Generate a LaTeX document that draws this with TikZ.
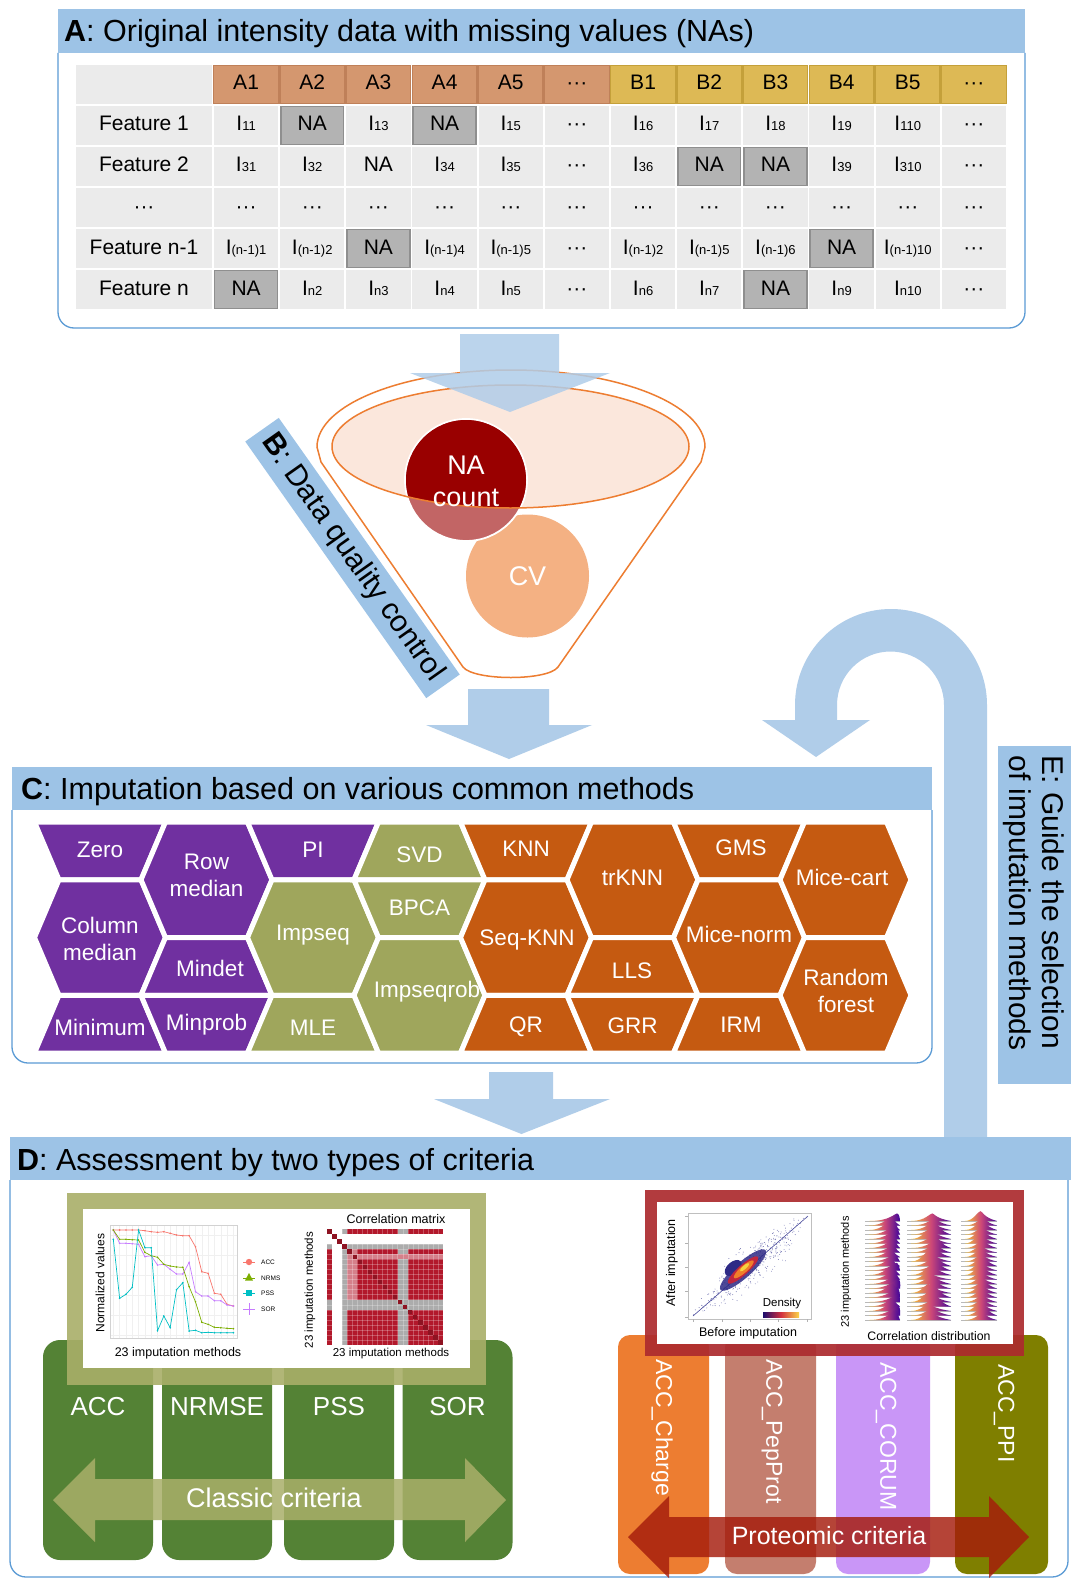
\documentclass[tikz,border=0pt]{standalone}
\usepackage{fontspec}
\setmainfont{Liberation Sans}
\usetikzlibrary{shapes.geometric}
\definecolor{cTitle}{HTML}{9DC3E6}
\definecolor{cLine}{HTML}{5B9BD5}
\definecolor{cArrow}{HTML}{B0CDE9}
\definecolor{cCell}{HTML}{EBEBEB}
\definecolor{cNA}{HTML}{B3B3B3}
\definecolor{cNAb}{HTML}{8F8F8F}
\definecolor{cHA}{HTML}{D4976F}
\definecolor{cHAb}{HTML}{BF8059}
\definecolor{cHB}{HTML}{DDB955}
\definecolor{cHBb}{HTML}{C4A03A}
\definecolor{cFun}{HTML}{ED7D31}
\definecolor{cPink}{HTML}{FBE7DC}
\definecolor{cNAred}{HTML}{990000}
\definecolor{cNAlt}{HTML}{C26565}
\definecolor{cCV}{HTML}{F4B183}
\definecolor{cPur}{HTML}{7030A0}
\definecolor{cGrn}{HTML}{9FA65C}
\definecolor{cOra}{HTML}{C55A11}
\definecolor{cDgreen}{HTML}{548235}
\definecolor{cOlive}{HTML}{A9AF69}
\definecolor{cChg}{HTML}{ED7D31}
\definecolor{cPep}{HTML}{C47E6E}
\definecolor{cCor}{HTML}{C996F7}
\definecolor{cPpi}{HTML}{7F7F00}
\definecolor{cRframe}{HTML}{AC2B2E}
\definecolor{cParrow}{HTML}{A51C0C}
\definecolor{cAcc}{HTML}{F8766D}
\definecolor{cNrm}{HTML}{7CAE00}
\definecolor{cPss}{HTML}{00BFC4}
\definecolor{cSor}{HTML}{C77CFF}
\definecolor{cCM}{HTML}{B2182B}
\definecolor{cSblue}{HTML}{4A4C9C}
\definecolor{cS1}{HTML}{2E2A86}
\definecolor{cS2}{HTML}{C0263F}
\definecolor{cS3}{HTML}{F07F2A}
\definecolor{cS4}{HTML}{F7D340}
\definecolor{cRidA}{HTML}{F9C932}
\definecolor{cRidM}{HTML}{CC4778}
\definecolor{cRidB}{HTML}{3D049B}
\definecolor{cDen1}{HTML}{1B0C6B}
\definecolor{cDen2}{HTML}{D2303E}
\definecolor{cDen3}{HTML}{FBD54A}
\newcommand{\fsz}[2]{\fontsize{#1}{#2}\selectfont}
\newcommand{\Iv}[1]{I{\fontsize{13}{14}\selectfont #1}}
\newcommand{\tdots}{\textperiodcentered\textperiodcentered\textperiodcentered}
\def\hxW{65.5}\def\hxA{41}\def\hxH{57.75}
\newcommand{\hexfull}[3]{\filldraw[fill=#3,hexb] (#1-\hxW,#2) -- (#1-\hxA,#2-\hxH) -- (#1+\hxA,#2-\hxH) -- (#1+\hxW,#2) -- (#1+\hxA,#2+\hxH) -- (#1-\hxA,#2+\hxH) -- cycle;}
\newcommand{\hextop}[3]{\filldraw[fill=#3,hexb] (#1-\hxW,#2) -- (#1-\hxA,#2-\hxH) -- (#1+\hxA,#2-\hxH) -- (#1+\hxW,#2) -- cycle;}
\newcommand{\hexbot}[3]{\filldraw[fill=#3,hexb] (#1-\hxW,#2) -- (#1-\hxA,#2+\hxH) -- (#1+\hxA,#2+\hxH) -- (#1+\hxW,#2) -- cycle;}
\newcommand{\trow}[2]{\foreach \c/\t/\f in {#2} {\ifnum\f=1 \node[nacell] (c#1-\c) at ({213+(\c-0.5)*66.1667},{84.5+41*#1}) {\t}; \else \node[tcell] (c#1-\c) at ({213+(\c-0.5)*66.1667},{84.5+41*#1}) {\t}; \fi}}
\newcommand{\plotser}[3]{\draw[#1,line width=0.7pt] (113.3,#2) \foreach \v [count=\i from 0] in #3 {-- ({113.3+6.32*\i},\v)}; \foreach \v [count=\i from 0] in #3 {\fill[#1] ({113.3+6.32*\i},\v) circle (0.9pt);}}
\def\accv{1230,1230,1230,1230,1230,1230.7,1231.7,1232.3,1231.7,1233.3,1235,1235.7,1235.7,1246.7,1271.7,1273.3,1293.3,1294.3,1304.3,1306}
\def\nrmv{1230,1239.3,1239.3,1239.7,1240,1252.3,1255.7,1257.3,1264.3,1266,1267,1267.3,1286.7,1301.7,1322.3,1324.3,1327.3,1327.7,1328.3,1328.7}
\def\pssv{1239.3,1298.3,1294.3,1287.3,1230,1247.7,1247.7,1330.7,1316,1327.7,1289.7,1282.7,1331,1330.3,1332.7,1332.3,1332.7,1332.7,1332.7,1332.7}
\def\sorv{1230,1243.3,1243.3,1243.7,1244.3,1256.7,1255.7,1265,1264.3,1269.3,1274,1274,1262.3,1291.7,1296,1296,1300.7,1300.7,1305,1306}
\begin{document}
\begin{tikzpicture}[x=1pt,y=-1pt,
  tbar/.style={fill=cTitle},
  ttext/.style={anchor=base west,font=\fsz{30.5}{34},inner sep=0pt},
  boxline/.style={draw=cLine,line width=1.3pt,rounded corners=16pt},
  tcell/.style={fill=cCell,minimum width=64.2pt,minimum height=39pt,inner sep=0pt,font=\fsz{21}{24},text height=15pt,text depth=4pt},
  nacell/.style={tcell,fill=cNA,draw=cNAb,line width=1.4pt,minimum width=62.8pt,minimum height=37.6pt},
  hacell/.style={tcell,fill=cHA,draw=cHAb,line width=1.4pt,minimum width=64.6pt,minimum height=37.6pt},
  hbcell/.style={tcell,fill=cHB,draw=cHBb,line width=1.4pt,minimum width=64.6pt,minimum height=37.6pt},
  hexb/.style={draw=white,line width=5pt},
  hext/.style={text=white,font=\fsz{22.5}{27},align=center,inner sep=0pt},
  wlab/.style={text=white,inner sep=0pt},
  plab/.style={inner sep=0pt},
]
\fill[white] (0,0) rectangle (1071,1581);
\useasboundingbox (0,0) rectangle (1071,1581);

% ================= A =================
\draw[boxline] (58,53) -- (58,328) -- (1025,328) -- (1025,53);
\fill[tbar] (58,9) rectangle (1025,53);
\node[ttext] (tA) at (64,42) {\textbf{A}: Original intensity data with missing values (NAs)};

\node[tcell,minimum width=136pt] (f0) at (144,84.5) {};
\foreach \r/\lab in {1/Feature 1,2/Feature 2,3/\tdots,4/Feature n-1,5/Feature n}
  \node[tcell,minimum width=136pt] (f\r) at (144,{84.5+41*\r}) {\lab};
\foreach \c/\t in {1/A1,2/A2,3/A3,4/A4,5/A5,6/\tdots}
  \node[hacell] (h\c) at ({213+(\c-0.5)*66.1667},84.5) {\t};
\foreach \c/\t in {7/B1,8/B2,9/B3,10/B4,11/B5,12/\tdots}
  \node[hbcell] (h\c) at ({213+(\c-0.5)*66.1667},84.5) {\t};
\trow{1}{1/\Iv{11}/0,2/NA/1,3/\Iv{13}/0,4/NA/1,5/\Iv{15}/0,6/\tdots/0,7/\Iv{16}/0,8/\Iv{17}/0,9/\Iv{18}/0,10/\Iv{19}/0,11/\Iv{110}/0,12/\tdots/0}
\trow{2}{1/\Iv{31}/0,2/\Iv{32}/0,3/NA/0,4/\Iv{34}/0,5/\Iv{35}/0,6/\tdots/0,7/\Iv{36}/0,8/NA/1,9/NA/1,10/\Iv{39}/0,11/\Iv{310}/0,12/\tdots/0}
\trow{3}{1/\tdots/0,2/\tdots/0,3/\tdots/0,4/\tdots/0,5/\tdots/0,6/\tdots/0,7/\tdots/0,8/\tdots/0,9/\tdots/0,10/\tdots/0,11/\tdots/0,12/\tdots/0}
\trow{4}{1/\Iv{(n-1)1}/0,2/\Iv{(n-1)2}/0,3/NA/1,4/\Iv{(n-1)4}/0,5/\Iv{(n-1)5}/0,6/\tdots/0,7/\Iv{(n-1)2}/0,8/\Iv{(n-1)5}/0,9/\Iv{(n-1)6}/0,10/NA/1,11/\Iv{(n-1)10}/0,12/\tdots/0}
\trow{5}{1/NA/1,2/\Iv{n2}/0,3/\Iv{n3}/0,4/\Iv{n4}/0,5/\Iv{n5}/0,6/\tdots/0,7/\Iv{n6}/0,8/\Iv{n7}/0,9/NA/1,10/\Iv{n9}/0,11/\Iv{n10}/0,12/\tdots/0}

% ================= B funnel =================
\draw[cFun,line width=1.5pt] (321,462) -- (317,447) arc[start angle=180,end angle=0,x radius=194pt,y radius=77pt] -- (701,462) -- (558,667) .. controls (548,681) and (474,681) .. (463,667) -- cycle;
\fill[cPink] (510.5,446.5) ellipse [x radius=178.5pt,y radius=61.5pt];
\fill[cCV] (527.5,576) circle (61.5pt);
\node[wlab,font=\fsz{27}{30}] (cv) at (527.5,576) {CV};
\filldraw[fill=cNAlt,draw=white,line width=1.8pt] (466,480) circle (61pt);
\begin{scope}
  \clip (510.5,446.5) ellipse [x radius=178.5pt,y radius=61.5pt];
  \fill[cNAred] (466,480) circle (60pt);
\end{scope}
\draw[cFun,line width=1.5pt] (510.5,446.5) ellipse [x radius=178.5pt,y radius=61.5pt];
\node[wlab,font=\fsz{27}{32},align=center] (nac) at (466,481) {NA\\count};

\fill[cArrow,opacity=0.85] (460,334) -- (559,334) -- (559,373) -- (610,373) -- (510,412) -- (410,373) -- (460,373) -- cycle;
\node[fill=cTitle,rotate=-54.8,minimum width=314pt,minimum height=41pt,inner sep=0pt,font=\fsz{30}{34}] (lblB) at (352.5,558) {\textbf{B}: Data quality control};

\fill[cArrow] (468,689) -- (549,689) -- (549,725) -- (592,725) -- (509,759) -- (426,725) -- (468,725) -- cycle;

% ================= E =================
\fill[cArrow] (944,1137) -- (944,705) arc[start angle=0,end angle=180,radius=53.5pt] -- (837,720) -- (870,720) -- (816,757) -- (762,720) -- (795,720) -- (795,705) arc[start angle=180,end angle=0,radius=96pt] -- (987,1137) -- cycle;
\node[fill=cTitle,minimum width=73pt,minimum height=338pt,inner sep=0pt] (Ebox) at (1034.5,915) {};
\node[rotate=-90,align=left,font=\fsz{30}{33},inner sep=0pt] (Etxt) at (1033.5,903) {E: Guide the selection\\of imputation methods};

% ================= C =================
\draw[boxline] (12,810) -- (12,1063) -- (932,1063) -- (932,810);
\fill[tbar] (12,767) rectangle (932,810);
\node[ttext] (tC) at (21,799) {\textbf{C}: Imputation based on various common methods};

\hexbot{100}{822}{cPur}
\hexfull{100}{937.5}{cPur}
\hextop{100}{1053}{cPur}
\hexfull{206.5}{879.75}{cPur}
\hextop{206.5}{995.25}{cPur}
\hexbot{206.5}{995.25}{cPur}
\hexbot{313}{822}{cPur}
\hexfull{313}{937.5}{cGrn}
\hextop{313}{1053}{cGrn}
\hextop{419.5}{879.75}{cGrn}
\hexbot{419.5}{879.75}{cGrn}
\hexfull{419.5}{995.25}{cGrn}
\hexbot{526}{822}{cOra}
\hexfull{526}{937.5}{cOra}
\hextop{526}{1053}{cOra}
\hexfull{632.5}{879.75}{cOra}
\hextop{632.5}{995.25}{cOra}
\hexbot{632.5}{995.25}{cOra}
\hexbot{739}{822}{cOra}
\hexfull{739}{937.5}{cOra}
\hextop{739}{1053}{cOra}
\hexfull{845.5}{879.75}{cOra}
\hexfull{845.5}{995.25}{cOra}

\node[hext] (mZero) at (100,850) {Zero};
\node[hext] (mColm) at (100,939) {Column\\median};
\node[hext] (mMin) at (100,1027) {Minimum};
\node[hext] (mRowm) at (206.5,875) {Row\\median};
\node[hext] (mMindet) at (210,968) {Mindet};
\node[hext] (mMinprob) at (206.5,1025) {Minprob};
\node[hext] (mPI) at (313,850) {PI};
\node[hext] (mImpseq) at (313,935) {Impseq};
\node[hext] (mMLE) at (313,1028) {MLE};
\node[hext] (mSVD) at (419.5,855) {SVD};
\node[hext] (mBPCA) at (419.5,908) {BPCA};
\node[hext] (mImpseqrob) at (427,992) {Impseqrob};
\node[hext] (mKNN) at (526,849) {KNN};
\node[hext] (mSeqKNN) at (527,940) {Seq-KNN};
\node[hext] (mQR) at (526,1027) {QR};
\node[hext] (mtrKNN) at (632.5,878) {trKNN};
\node[hext] (mLLS) at (632,971) {LLS};
\node[hext] (mGRR) at (632.5,1026) {GRR};
\node[hext] (mGMS) at (741,848) {GMS};
\node[hext] (mMicen) at (739,934) {Mice-norm};
\node[hext] (mIRM) at (741,1025) {IRM};
\node[hext] (mMicec) at (842,877) {Mice-cart};
\node[hext] (mRF) at (846,991) {Random\\forest};

\fill[cArrow] (489,1072) -- (553,1072) -- (553,1099) -- (610,1099) -- (521.5,1134) -- (434,1099) -- (489,1099) -- cycle;

% ================= D =================
\draw[boxline] (10,1180) -- (10,1577) -- (1068,1577) -- (1068,1180);
\fill[tbar] (10,1137) rectangle (1071,1180);
\node[ttext] (tD) at (17,1170) {\textbf{D}: Assessment by two types of criteria};

% classic boxes
\foreach \cx/\nm/\tx in {98/ACC/ACC,217/NRM/NRMSE,339/PSS/PSS,457.5/SOR/SOR} {
  \node[fill=cDgreen,rounded corners=17pt,minimum width=110pt,minimum height=220pt,inner sep=0pt] (g\nm) at (\cx,1450) {};
  \node[wlab,font=\fsz{26}{30}] (l\nm) at (\cx,1407) {\tx};
}
\fill[cOlive,opacity=0.9] (67,1193) rectangle (486,1385);
\fill[white] (83,1209) rectangle (470,1368);

% line chart
\foreach \i in {0,...,19} \draw[gray!12,line width=0.3pt] ({113.3+6.32*\i},1225) -- ++(0,113);
\foreach \y in {1235,1255,1275,1295,1315,1335} \draw[gray!12,line width=0.3pt] (110,\y) -- (237,\y);
\draw[gray!35,line width=0.4pt] (110,1225) rectangle (237,1338);
\plotser{cAcc}{1230}{\accv}
\plotser{cSor}{1230}{\sorv}
\plotser{cNrm}{1230}{\nrmv}
\plotser{cPss}{1239.3}{\pssv}
\node[plab,rotate=90,font=\fsz{12}{14}] (ylab1) at (100,1283) {Normalized values};
\node[plab,font=\fsz{12.5}{14}] (xlab1) at (178,1353) {23 imputation methods};
\draw[cAcc,line width=1pt] (243,1262) -- (255,1262); \fill[cAcc] (249,1262) circle (3.2pt);
\draw[cNrm,line width=1pt] (243,1278) -- (255,1278); \fill[cNrm] (249,1273) -- (253,1280.5) -- (245,1280.5) -- cycle;
\draw[cPss,line width=1pt] (243,1293) -- (255,1293); \fill[cPss] (246,1290) rectangle (252,1296);
\draw[cSor,line width=0.8pt] (243,1309) -- (255,1309) (249,1303) -- (249,1315);
\node[plab,anchor=west,font=\fsz{6.5}{8}] (legA) at (261,1262) {ACC};
\node[plab,anchor=west,font=\fsz{6.5}{8}] (legN) at (261,1278) {NRMS};
\node[plab,anchor=west,font=\fsz{6.5}{8}] (legP) at (261,1293) {PSS};
\node[plab,anchor=west,font=\fsz{6.5}{8}] (legS) at (261,1309) {SOR};

% correlation matrix
\node[plab,font=\fsz{12.5}{14}] (cmt) at (396,1219) {Correlation matrix};
\node[plab,rotate=90,font=\fsz{11.5}{13}] (cmy) at (310,1290) {23 imputation methods};
\node[plab,font=\fsz{11.5}{13}] (cmx) at (391,1354) {23 imputation methods};
\fill[cCM] (327,1229) rectangle (443,1345);
\fill[gray!65] (342.1,1229) rectangle (347.2,1345);
\fill[gray!65] (327,1244.1) rectangle (443,1249.2);
\fill[gray!65] (397.6,1229) rectangle (407.7,1345);
\fill[gray!65] (327,1299.6) rectangle (443,1309.7);
\fill[cCM!55!white] (347.2,1249.2) rectangle (357.3,1299.6);
\fill[cCM!55!white] (347.2,1254.2) rectangle (443,1259.3);
\fill[white] (332,1229) rectangle (342.1,1345);
\fill[white] (327,1234) rectangle (443,1244.1);
\foreach \i in {1,...,22} {
  \draw[white,opacity=0.25,line width=0.3pt] ({327+5.043*\i},1229) -- ++(0,116);
  \draw[white,opacity=0.25,line width=0.3pt] (327,{1229+5.043*\i}) -- ++(116,0);
}
\foreach \i in {0,...,22} \fill[cCM!80!black] ({327+5.043*\i+0.3},{1229+5.043*\i+0.3}) rectangle ++(4.44,4.44);

% classic arrow
\fill[cOlive,opacity=0.85] (53,1500) -- (95,1458) -- (95,1479) -- (465,1479) -- (465,1458) -- (506,1500) -- (465,1542) -- (465,1520) -- (95,1520) -- (95,1542) -- cycle;
\node[wlab,font=\fsz{27}{30}] (cc) at (274,1498) {Classic criteria};

% proteomic boxes
\node[fill=cChg,rounded corners=12pt,minimum width=91pt,minimum height=239pt,inner sep=0pt] (bChg) at (663.5,1454.5) {};
\node[fill=cPep,rounded corners=12pt,minimum width=91pt,minimum height=239pt,inner sep=0pt] (bPep) at (770.5,1454.5) {};
\node[fill=cCor,rounded corners=12pt,minimum width=94pt,minimum height=239pt,inner sep=0pt] (bCor) at (883,1454.5) {};
\node[fill=cPpi,rounded corners=12pt,minimum width=93pt,minimum height=239pt,inner sep=0pt] (bPpi) at (1001.5,1454.5) {};
\node[wlab,rotate=-90,anchor=west,font=\fsz{23}{26}] (tChg) at (662,1359) {ACC\_Charge};
\node[wlab,rotate=-90,anchor=west,font=\fsz{23}{26}] (tPep) at (772,1359) {ACC\_PepProt};
\node[wlab,rotate=-90,anchor=west,font=\fsz{23}{26}] (tCor) at (886,1362) {ACC\_CORUM};
\node[wlab,rotate=-90,anchor=west,font=\fsz{23}{26}] (tPpi) at (1004,1364) {ACC\_PPI};

\fill[cRframe,opacity=0.92] (645,1190) rectangle (1024,1356);
\fill[white] (657,1202) rectangle (1013,1344);

% scatter
\draw[gray!50,line width=0.5pt] (688,1213) rectangle (811,1319);
\foreach \y in {1216,1243,1267,1291,1317} \draw[gray!60,line width=0.4pt] (685,\y) -- (688,\y);
\foreach \x in {693,722,750,778,807} \draw[gray!60,line width=0.4pt] (\x,1319) -- (\x,1322);
\pgfmathsetseed{42}
\begin{scope}
\clip (688,1213) rectangle (811,1319);
\foreach \k in {1,...,420} {
  \pgfmathsetmacro\tpar{(rnd+rnd)/2}
  \pgfmathsetmacro\npar{(rnd+rnd+rnd-1.5)*14*(0.2+sin(\tpar*180))}
  \fill[cSblue,opacity=0.8] ({693+114*\tpar+0.66*\npar},{1316-100*\tpar+0.75*\npar}) circle (0.45pt);
}
\draw[cSblue,line width=0.6pt] (693,1316) -- (808,1216);
\begin{scope}[rotate around={41.5:(743,1270)}]
  \fill[cS1,opacity=0.85] (743,1270) ellipse [x radius=30pt,y radius=8pt];
  \fill[cS1] (737,1262) ellipse [x radius=10pt,y radius=6pt];
  \fill[cS2] (743,1270) ellipse [x radius=20pt,y radius=5pt];
  \fill[cS3] (744,1270) ellipse [x radius=13pt,y radius=3.5pt];
  \fill[cS4] (746,1269) ellipse [x radius=6pt,y radius=1.8pt];
\end{scope}
\end{scope}
\node[plab,rotate=90,font=\fsz{12.5}{14}] (sy) at (672,1263) {After imputation};
\node[plab,font=\fsz{12.5}{14}] (sx) at (748,1333) {Before imputation};
\node[plab,font=\fsz{11.5}{13}] (dens) at (782,1304) {Density};
\shade[left color=cDen1,right color=cDen3,middle color=cDen2] (763,1312) rectangle (799,1317);

% ridges
\pgfmathsetseed{7}
\foreach \xs/\xpc/\xe/\jit in {869/894/900/4,911/933/951/5,965/982/997/2} {
  \foreach \r in {0,...,22} {
    \pgfmathsetmacro\yb{1221+4.5*\r}
    \pgfmathsetmacro\xpk{\xpc+\jit*(2*rnd-1)}
    \pgfmathsetmacro\hgt{7+4*rnd}
    \draw[gray!55,line width=0.3pt] (\xs-4,\yb) -- (\xe,\yb);
    \shade[left color=cRidA,right color=cRidB,middle color=cRidM] (\xs,\yb) .. controls (\xpk-7,\yb) and (\xpk-2.5,\yb-\hgt) .. (\xpk,\yb-\hgt) .. controls (\xpk+2,\yb-\hgt) and (\xpk+3,\yb-0.35*\hgt) .. (\xe,\yb) -- cycle;
  }
}
\node[plab,rotate=90,font=\fsz{11}{13}] (ry) at (846,1272) {23 imputation methods};
\node[plab,font=\fsz{12.3}{14}] (rx) at (929,1336) {Correlation distribution};

% proteomic arrow
\fill[cParrow,opacity=0.82] (628,1537) -- (669,1496) -- (669,1517) -- (989,1517) -- (989,1496) -- (1029,1537) -- (989,1578) -- (989,1557) -- (669,1557) -- (669,1578) -- cycle;
\node[wlab,font=\fsz{25}{28}] (pc) at (829,1536) {Proteomic criteria};
\end{tikzpicture}
\end{document}
